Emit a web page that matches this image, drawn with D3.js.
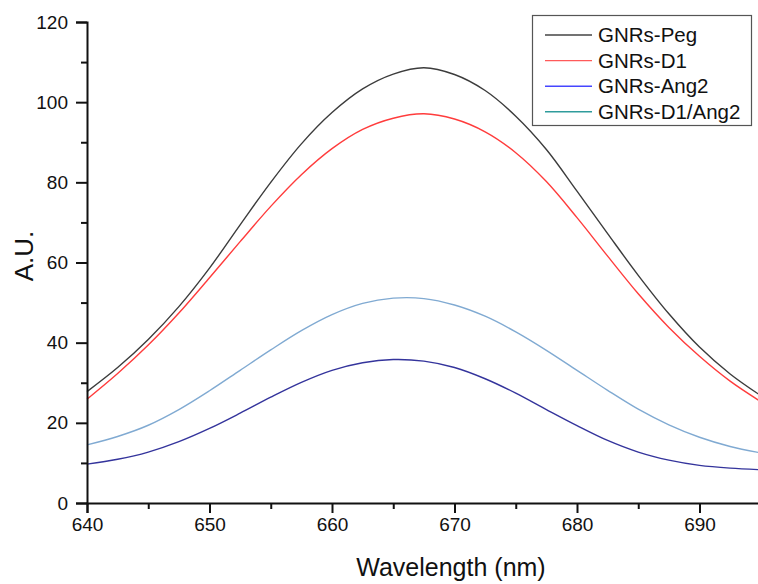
<!DOCTYPE html>
<html>
<head>
<meta charset="utf-8">
<script src="https://cdn.jsdelivr.net/npm/d3@7"></script>
<style>
	body { margin: 0; background: #fff; }
	svg { display: block; font-family: "Liberation Sans", Arial, sans-serif; }
</style>
</head>
<body>
<div id="chart-area"></div>
<script>
// Wavelength grid (nm)
let wavelengths = [640, 642.5, 645, 647.5, 650, 652.5, 655, 657.5, 660, 662.5, 665, 667.5, 670, 672.5, 675, 677.5, 680, 682.5, 685, 687.5, 690, 692.5, 695];

// Series values
let pegValues     = [27.8, 33.8, 40.8, 49.0, 58.6, 69.4, 80.0, 89.6, 97.4, 103.3, 107.0, 108.6, 106.9, 102.9, 96.5, 88.2, 77.8, 67.2, 56.8, 47.2, 38.9, 32.2, 26.8];
let d1Values      = [25.9, 32.3, 39.4, 47.4, 56.2, 65.2, 74.0, 81.9, 88.4, 93.2, 96.0, 97.1, 95.8, 92.6, 87.4, 80.2, 71.2, 61.6, 52.2, 43.8, 36.6, 30.4, 25.3];
let ang2Values    = [9.7, 10.9, 12.7, 15.3, 18.6, 22.4, 26.4, 30.1, 33.1, 35.0, 35.8, 35.4, 33.8, 31.0, 27.4, 23.3, 19.3, 15.6, 12.7, 10.7, 9.4, 8.7, 8.3];
let d1Ang2Values  = [14.5, 16.6, 19.4, 23.3, 28.0, 33.1, 38.2, 43.0, 47.0, 49.8, 51.1, 51.0, 49.4, 46.6, 42.7, 38.1, 33.1, 28.1, 23.4, 19.5, 16.4, 14.1, 12.5];

let seriesNames = ["GNRs-Peg", "GNRs-D1", "GNRs-Ang2", "GNRs-D1/Ang2"];

// Tick values
let yMajorTicks = [0, 20, 40, 60, 80, 100, 120];
let yMinorTicks = [10, 30, 50, 70, 90, 110];
let xMajorTicks = [640, 650, 660, 670, 680, 690];
let xMinorTicks = [645, 655, 665, 675, 685, 695];

let width = 758,
	height = 584;

let lineColors = ["#3c3c3c", "#ff3c3c", "#34349c", "#80aad2"];
let legendColors = ["#454545", "#ff5a5a", "#4646ff", "#2f9c9c"];

let allValues = [pegValues, d1Values, ang2Values, d1Ang2Values];
let series = seriesNames.map((name, i) => ({
	name: name,
	points: wavelengths.map((w, j) => ({x: w, y: allValues[i][j]}))
}));

let svg = d3.select("#chart-area").append("svg")
	.attr("width", width)
	.attr("height", height);

// Scales: axis origin at (87, 503), 120 at y=22, 10 nm ~ 122.5 px
let xScale = d3.scaleLinear()
	.domain([640, 695])
	.range([87, 87 + 55 * 12.25]);

let yScale = d3.scaleLinear()
	.domain([0, 120])
	.range([503, 22]);

let line = d3.line()
	.x(d => xScale(d.x))
	.y(d => yScale(d.y))
	.curve(d3.curveCatmullRom);

// Curves
svg.selectAll("path.curve")
	.data(series)
	.enter()
	.append("path")
	.attr("class", "curve")
	.attr("d", d => line(d.points))
	.attr("fill", "none")
	.attr("stroke", (d, i) => lineColors[i])
	.attr("stroke-width", 1.4);

// Y axis (major + minor ticks)
let yAxis = d3.axisLeft(yScale)
	.tickValues(yMajorTicks)
	.tickSize(11)
	.tickPadding(8);

let yAxisMinor = d3.axisLeft(yScale)
	.tickValues(yMinorTicks)
	.tickSize(6)
	.tickFormat("");

svg.append("g")
	.attr("class", "y-axis")
	.attr("transform", "translate(87,0)")
	.call(yAxis);

svg.append("g")
	.attr("class", "y-axis-minor")
	.attr("transform", "translate(87,0)")
	.call(yAxisMinor)
	.select(".domain").remove();

// X axis
let xAxis = d3.axisBottom(xScale)
	.tickValues(xMajorTicks)
	.tickSize(10)
	.tickPadding(5);

let xAxisMinor = d3.axisBottom(xScale)
	.tickValues(xMinorTicks)
	.tickSize(6)
	.tickFormat("");

svg.append("g")
	.attr("class", "x-axis")
	.attr("transform", "translate(0,503)")
	.call(xAxis);

svg.append("g")
	.attr("class", "x-axis-minor")
	.attr("transform", "translate(0,503)")
	.call(xAxisMinor)
	.select(".domain").remove();

svg.selectAll(".x-axis .domain, .y-axis .domain")
	.attr("stroke", "#111")
	.attr("stroke-width", 2);
svg.selectAll(".tick line")
	.attr("stroke", "#111")
	.attr("stroke-width", 2);
svg.selectAll(".tick text")
	.attr("font-family", "Liberation Sans, Arial, sans-serif")
	.attr("font-size", 19)
	.attr("fill", "#111");

// Axis labels
svg.append("text")
	.attr("class", "x-axis-label")
	.attr("x", 451)
	.attr("y", 576)
	.attr("text-anchor", "middle")
	.attr("font-size", 25)
	.attr("fill", "#111")
	.text("Wavelength (nm)");

svg.append("text")
	.attr("class", "y-axis-label")
	.attr("transform", "translate(33,256) rotate(-90)")
	.attr("text-anchor", "middle")
	.attr("font-size", 26)
	.attr("fill", "#111")
	.text("A.U.");

// Legend
let legend = svg.append("g").attr("class", "legend");

legend.append("rect")
	.attr("x", 532.5)
	.attr("y", 15.5)
	.attr("width", 219)
	.attr("height", 110)
	.attr("fill", "#fff")
	.attr("stroke", "#555")
	.attr("stroke-width", 1.2);

let rows = legend.selectAll("g.row")
	.data(series)
	.enter()
	.append("g")
	.attr("class", "row")
	.attr("transform", (d, i) => "translate(0," + (35 + i * 25.6) + ")");

rows.append("line")
	.attr("x1", 545)
	.attr("x2", 592)
	.attr("stroke", (d, i) => legendColors[i])
	.attr("stroke-width", 1.4);

rows.append("text")
	.attr("x", 598)
	.attr("y", 7)
	.attr("font-size", 20.5)
	.attr("fill", "#111")
	.text(d => d.name);
</script>
</body>
</html>
